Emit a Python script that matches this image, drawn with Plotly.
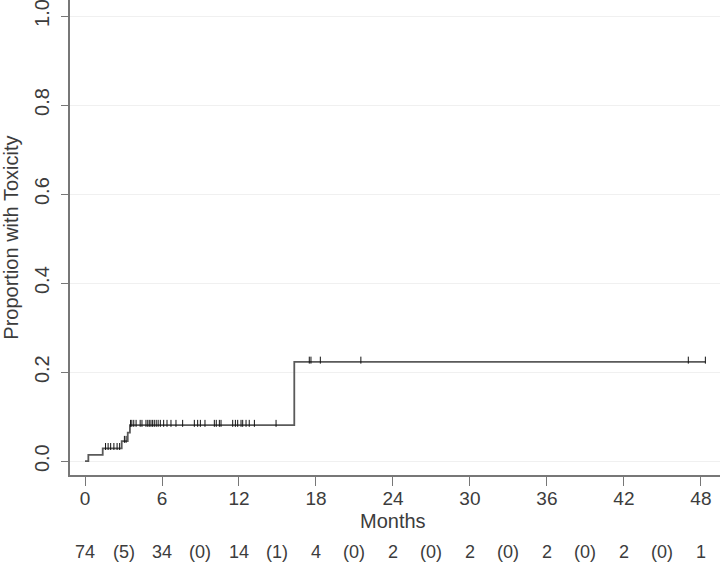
import plotly.graph_objects as go

# cumulative incidence steps (months, proportion)
step_times = [0, 0.26, 1.38, 2.86, 3.33, 3.5, 16.31, 48.35]
step_vals = [0, 0.014, 0.029, 0.045, 0.064, 0.081, 0.223, 0.223]

# censoring marks, grouped by the level they sit on
cens_low = [1.6, 1.8, 2.0, 2.25, 2.5, 2.7]
cens_low_val = 0.029
cens_mid = [3.07, 3.2]
cens_mid_val = 0.045
cens_flat = [3.55, 3.65, 3.8, 3.98, 4.3, 4.44, 4.75, 4.89, 5.01, 5.14, 5.27, 5.4,
             5.55, 5.7, 5.87, 6.13, 6.39, 6.7, 7.09, 7.61, 8.52, 8.78, 8.99, 9.35,
             10.08, 10.23, 10.47, 10.6, 11.51, 11.72, 11.9, 12.16, 12.29, 12.55,
             12.8, 13.2, 14.89]
cens_flat_val = 0.081
cens_top = [17.48, 17.61, 18.34, 21.5, 47.02, 48.35]
cens_top_val = 0.223

# number at risk / events table under the axis
risk_pos = [0, 3, 6, 9, 12, 15, 18, 21, 24, 27, 30, 33, 36, 39, 42, 45, 48]
risk_text = ["74", "(5)", "34", "(0)", "14", "(1)", "4", "(0)", "2", "(0)",
             "2", "(0)", "2", "(0)", "2", "(0)", "1"]

x_ticks = [0, 6, 12, 18, 24, 30, 36, 42, 48]
y_ticks = [0.0, 0.2, 0.4, 0.6, 0.8, 1.0]

txt = "#3c3c3c"
fnt = "Liberation Sans, Arial, sans-serif"

fig = go.Figure()
fig.add_trace(go.Scatter(
    x=step_times, y=step_vals, mode="lines",
    line=dict(shape="hv", color="#5a5a5a", width=1.8),
    hoverinfo="skip", showlegend=False,
))

cx = cens_low + cens_mid + cens_flat + cens_top
cy = ([cens_low_val] * len(cens_low) + [cens_mid_val] * len(cens_mid)
      + [cens_flat_val] * len(cens_flat) + [cens_top_val] * len(cens_top))
fig.add_trace(go.Scatter(
    x=cx, y=[v + 0.004 for v in cy], mode="markers",
    marker=dict(symbol="line-ns", size=5, line=dict(color="#111111", width=1)),
    hoverinfo="skip", showlegend=False,
))

for p, t in zip(risk_pos, risk_text):
    fig.add_annotation(x=p, y=-0.162, xref="x", yref="paper", text=t,
                       showarrow=False, yanchor="middle",
                       font=dict(size=18, color=txt, family=fnt))

# axis titles as annotations for exact placement
fig.add_annotation(x=0.497, y=-0.097, xref="paper", yref="paper", text="Months",
                   showarrow=False, yanchor="middle",
                   font=dict(size=20, color=txt, family=fnt))
fig.add_annotation(x=-0.092, y=0.5, xref="paper", yref="paper",
                   text="Proportion with Toxicity", textangle=-90,
                   showarrow=False, xanchor="center", yanchor="middle",
                   font=dict(size=20, color=txt, family=fnt))

fig.update_layout(
    width=720, height=565,
    margin=dict(l=70, r=0, t=0, b=90),
    plot_bgcolor="white", paper_bgcolor="white",
    font=dict(family=fnt, color=txt, size=20),
    xaxis=dict(
        range=[-1.17, 49.49], tickvals=x_ticks, ticks="outside", ticklen=9,
        tickcolor="#777777", showline=True, linecolor="#777777", linewidth=1.5,
        showgrid=False, zeroline=False, automargin=False,
        tickfont=dict(size=19), ticklabeloverflow="allow", ticklabelstandoff=-4,
    ),
    yaxis=dict(
        range=[-0.031, 1.036], tickvals=y_ticks, tickformat=".1f",
        tickangle=-90, ticks="outside", ticklen=7, tickcolor="#777777",
        showline=True, linecolor="#777777", linewidth=1.5,
        showgrid=True, gridcolor="#f0f0f0", gridwidth=1, zeroline=False,
        automargin=False, ticklabeloverflow="allow", ticklabelstandoff=4,
    ),
)

fig.write_html("out.html", config={"displayModeBar": False},
               post_script="document.body.style.margin='0px';")
